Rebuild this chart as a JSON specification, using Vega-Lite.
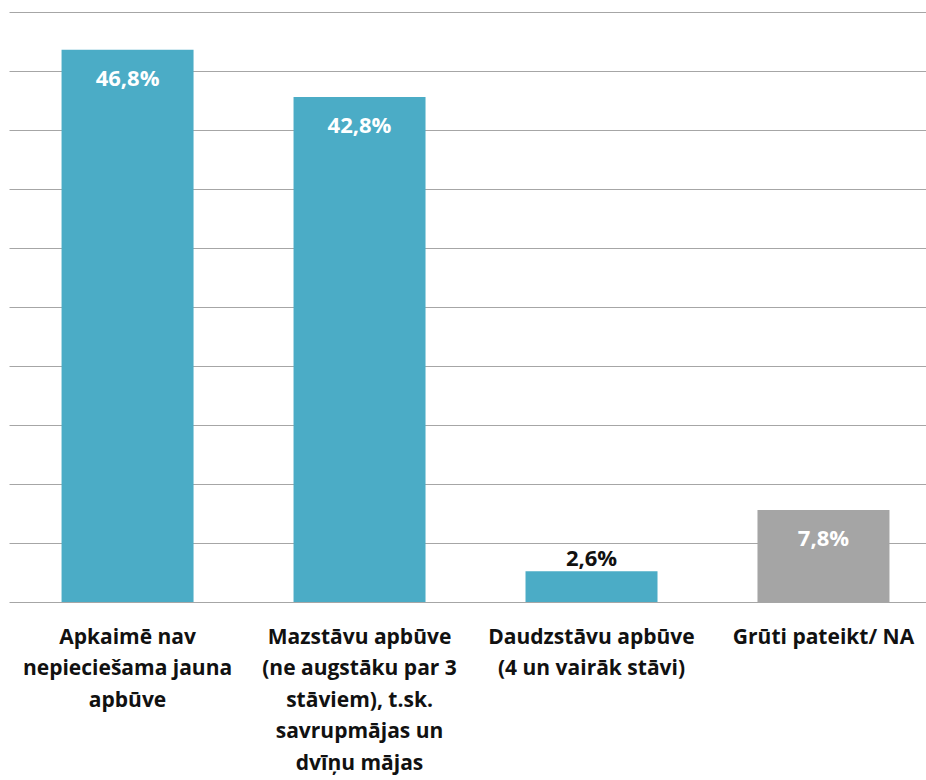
{
  "$schema": "https://vega.github.io/schema/vega-lite/v6.json",
  "width": 917,
  "height": 590,
  "autosize": {"type": "none"},
  "padding": {"left": 9, "top": 12, "right": 0, "bottom": 178},
  "background": "white",
  "config": {"view": {"stroke": null}, "font": "Open Sans"},
  "data": {
    "values": [
      {"category": "Apkaimē nav nepieciešama jauna apbūve", "value": 46.8},
      {"category": "Mazstāvu apbūve (ne augstāku par 3 stāviem), t.sk. savrupmājas un dvīņu mājas", "value": 42.8},
      {"category": "Daudzstāvu apbūve (4 un vairāk stāvi)", "value": 2.6},
      {"category": "Grūti pateikt/ NA", "value": 7.8}
    ]
  },
  "transform": [
    {"calculate": "replace(format(datum.value, '.1f'), '.', ',') + '%'", "as": "label"}
  ],
  "encoding": {
    "x": {
      "field": "category",
      "type": "nominal",
      "sort": null,
      "scale": {"paddingInner": 0.431, "paddingOuter": 0.192, "align": 0.59},
      "axis": {
        "title": null,
        "domain": false,
        "ticks": false,
        "labelAngle": 0,
        "labelFont": "Open Sans",
        "labelFontWeight": "bold",
        "labelFontSize": 21,
        "labelColor": "#111111",
        "labelPadding": 35,
        "labelLineHeight": 31.5,
        "labelLimit": 300,
        "labelBaseline": "middle",
        "labelExpr": "datum.value == 'Apkaimē nav nepieciešama jauna apbūve' ? ['Apkaimē nav', 'nepieciešama jauna', 'apbūve'] : datum.value == 'Daudzstāvu apbūve (4 un vairāk stāvi)' ? ['Daudzstāvu apbūve', '(4 un vairāk stāvi)'] : datum.value == 'Grūti pateikt/ NA' ? ['Grūti pateikt/ NA'] : ['Mazstāvu apbūve', '(ne augstāku par 3', 'stāviem), t.sk.', 'savrupmājas un', 'dvīņu mājas']"
      }
    }
  },
  "layer": [
    {
      "mark": {"type": "bar"},
      "encoding": {
        "y": {
          "field": "value",
          "type": "quantitative",
          "scale": {"domain": [0, 50], "nice": false},
          "axis": {
            "title": null,
            "labels": false,
            "ticks": false,
            "domain": false,
            "grid": true,
            "gridColor": "#a6a6a6",
            "gridWidth": 1,
            "gridOpacity": 1,
            "values": [0, 5, 10, 15, 20, 25, 30, 35, 40, 45, 50]
          }
        },
        "color": {
          "field": "category",
          "type": "nominal",
          "legend": null,
          "scale": {
            "domain": [
              "Apkaimē nav nepieciešama jauna apbūve",
              "Mazstāvu apbūve (ne augstāku par 3 stāviem), t.sk. savrupmājas un dvīņu mājas",
              "Daudzstāvu apbūve (4 un vairāk stāvi)",
              "Grūti pateikt/ NA"
            ],
            "range": ["#4bacc6", "#4bacc6", "#4bacc6", "#a5a5a5"]
          }
        }
      }
    },
    {
      "transform": [{"filter": "datum.value >= 5"}],
      "mark": {"type": "text", "baseline": "middle", "dy": 29, "color": "white", "fontWeight": "bold", "fontSize": 22, "font": "Open Sans"},
      "encoding": {
        "y": {"field": "value", "type": "quantitative"},
        "text": {"field": "label"}
      }
    },
    {
      "transform": [{"filter": "datum.value < 5"}],
      "mark": {"type": "text", "baseline": "middle", "dy": -12, "color": "#111111", "fontWeight": "bold", "fontSize": 22, "font": "Open Sans"},
      "encoding": {
        "y": {"field": "value", "type": "quantitative"},
        "text": {"field": "label"}
      }
    }
  ]
}
